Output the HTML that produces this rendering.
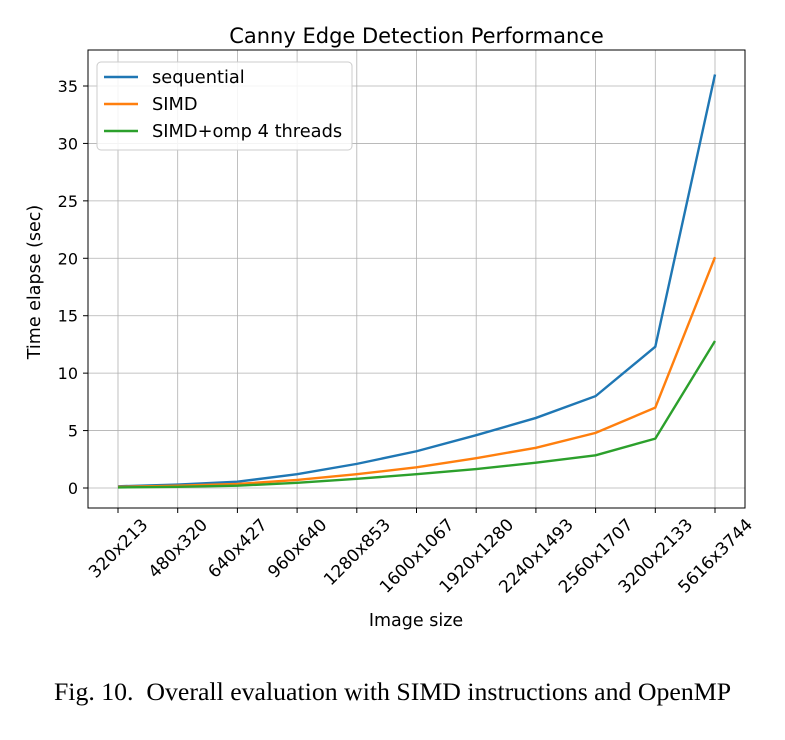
<!DOCTYPE html>
<html><head><meta charset="utf-8"><style>
body{margin:0;background:#fff;width:785px;height:740px;overflow:hidden}
svg{font-family:"DejaVu Sans","Liberation Sans",sans-serif}
.cap{position:absolute;left:0;top:677px;width:785px;text-align:center;font-family:"Liberation Serif",serif;font-size:25.8px;white-space:nowrap}
</style></head><body>
<svg id="chart" width="785" height="740" style="position:absolute;left:0;top:0"></svg>
<div class="cap">Fig. 10.&nbsp; Overall evaluation with SIMD instructions and OpenMP</div>
<script>
const categories=["320x213","480x320","640x427","960x640","1280x853","1600x1067","1920x1280","2240x1493","2560x1707","3200x2133","5616x3744"];
const sequential=[0.15,0.3,0.55,1.2,2.1,3.2,4.6,6.1,8.0,12.3,36.0];
const simd=[0.1,0.2,0.35,0.7,1.2,1.8,2.6,3.5,4.8,7.0,20.1];
const ompSimd=[0.05,0.1,0.2,0.45,0.8,1.2,1.65,2.2,2.85,4.3,12.8];
const yTicks=[0,5,10,15,20,25,30,35];
const seriesNames=["sequential","SIMD","SIMD+omp 4 threads"];
const NS="http://www.w3.org/2000/svg";
const svg=document.getElementById('chart');
const L=88,R=745,T=50,B=508;
const x=i=>118+i*(715-118)/(categories.length-1);
const y=v=>488-v*(488-86)/35;
function mk(t,a,p){const e=document.createElementNS(NS,t);for(const k in a)e.setAttribute(k,a[k]);(p||svg).appendChild(e);return e;}
yTicks.forEach(v=>{
 const g=mk('line',{x1:L,x2:R,y1:y(v),y2:y(v),stroke:'#b0b0b0','stroke-width':0.8});
 
 
 mk('line',{x1:L-5,x2:L,y1:y(v),y2:y(v),stroke:'#000'});
 const t=mk('text',{x:L-10,y:y(v)+6,'text-anchor':'end','font-size':16});
 t.textContent=v;
 
 
});
categories.forEach((c,i)=>{
 const g=mk('line',{x1:x(i),x2:x(i),y1:T,y2:B,stroke:'#b0b0b0','stroke-width':0.8});
 
 
 mk('line',{x1:x(i),x2:x(i),y1:B,y2:B+5,stroke:'#000'});
 const cy=B+14+c.length*17*0.62*0.354;
 const t=mk('text',{x:x(i),y:cy+6,'text-anchor':'middle','font-size':17,transform:`rotate(-45 ${x(i)} ${cy})`});
 t.textContent=c;
 
 
});
const colors=['#1f77b4','#ff7f0e','#2ca02c'];
[sequential,simd,ompSimd].forEach((d,s)=>{
 const p=mk('polyline',{points:d.map((v,i)=>x(i)+','+y(v)).join(' '),fill:'none',stroke:colors[s],'stroke-width':2.4});
 
 
});
const fr=mk('rect',{x:L,y:T,width:R-L,height:B-T,fill:'none',stroke:'#000','stroke-width':1});


const lg=mk('g',{});


mk('rect',{x:97,y:62,width:255,height:88,rx:4,fill:'#fff','fill-opacity':0.85,stroke:'#ccc'},lg);
seriesNames.forEach((n,s)=>{
 const yy=77+s*27;
 mk('line',{x1:104,x2:138,y1:yy,y2:yy,stroke:colors[s],'stroke-width':2.4},lg);
 const t=mk('text',{x:152,y:yy+6,'font-size':17.8},lg);
 t.textContent=n;
 
 
});
const ti=mk('text',{x:(L+R)/2+0,y:43,'text-anchor':'middle','font-size':21});
ti.textContent='Canny Edge Detection Performance';


const xl=mk('text',{x:416,y:626,'text-anchor':'middle','font-size':17.5});
xl.textContent='Image size';


const yl=mk('text',{x:40,y:282,'text-anchor':'middle','font-size':17.5,transform:`rotate(-90 40 282)`});
yl.textContent='Time elapse (sec)';


</script>
</body></html>
